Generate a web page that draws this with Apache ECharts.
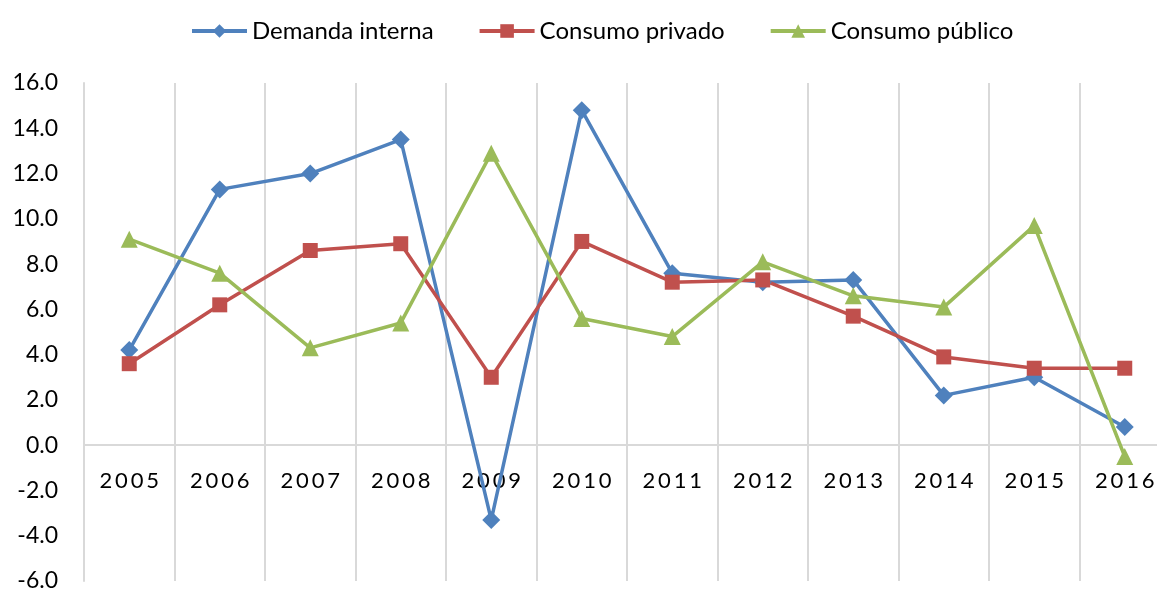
<!DOCTYPE html>
<html><head><meta charset="utf-8">
<script src="https://cdn.jsdelivr.net/npm/echarts@6/dist/echarts.min.js"></script>
<style>html,body{margin:0;padding:0;background:#fff}#c{width:1157px;height:592px}</style>
</head><body><div id="c"></div>
<script>
const years = ['2005','2006','2007','2008','2009','2010','2011','2012','2013','2014','2015','2016'];
const demandaInterna = [4.2, 11.3, 12.0, 13.5, -3.3, 14.8, 7.6, 7.2, 7.3, 2.2, 3.0, 0.8];
const consumoPrivado = [3.6, 6.2, 8.6, 8.9, 3.0, 9.0, 7.2, 7.3, 5.7, 3.9, 3.4, 3.4];
const consumoPublico = [9.1, 7.6, 4.3, 5.4, 12.9, 5.6, 4.8, 8.1, 6.6, 6.1, 9.7, -0.5];
const seriesNames = ['Demanda interna','Consumo privado','Consumo público'];
const yMin = -6, yMax = 16, yStep = 2;

const font = 'Lato, "Open Sans", sans-serif';
const gridTop = 83, gridH = 498;
const chart = echarts.init(document.getElementById('c'), null, {renderer:'canvas'});
function mk(name, data, color, symbol, size){
  return {name, type:'line', data, symbol, symbolSize:size,
    lineStyle:{color, width:3.5}, itemStyle:{color},
    emphasis:{disabled:true}, z: 3};
}
chart.setOption({
  animation:false,
  textStyle:{fontFamily:font},
  legend:{top:14, left:185, itemWidth:55, itemHeight:17, itemGap:44,
    lineStyle:{width:4},
    textStyle:{fontSize:24, color:'#000', fontFamily:font},
    data:seriesNames},
  grid:{left:84, top:gridTop, width:1086, height:gridH, containLabel:false, outerBoundsMode:'none'},
  xAxis:{type:'category', data:years, boundaryGap:true,
    offset: -gridH * (0 - yMin) / (yMax - yMin),
    axisLine:{onZero:false, lineStyle:{color:'#d9d9d9', width:2}},
    axisTick:{show:false},
    splitLine:{show:true, lineStyle:{color:'#d9d9d9', width:2}},
    axisLabel:{margin:25, fontSize:22, color:'#000', fontFamily:font,
      formatter:v=>v.split('').join('\u2009')}},
  yAxis:{type:'value', min:yMin, max:yMax, interval:yStep,
    axisLine:{show:true, lineStyle:{color:'#d9d9d9', width:2}},
    axisTick:{show:false},
    splitLine:{show:false},
    axisLabel:{margin:26, fontSize:23, color:'#000', fontFamily:font,
      formatter:v=>v.toFixed(1)}},
  series:[
    mk(seriesNames[0], demandaInterna, '#4F81BD', 'diamond', 18),
    mk(seriesNames[1], consumoPrivado, '#C0504D', 'rect', 15),
    mk(seriesNames[2], consumoPublico, '#9BBB59', 'triangle', 17)
  ]
});
</script></body></html>
